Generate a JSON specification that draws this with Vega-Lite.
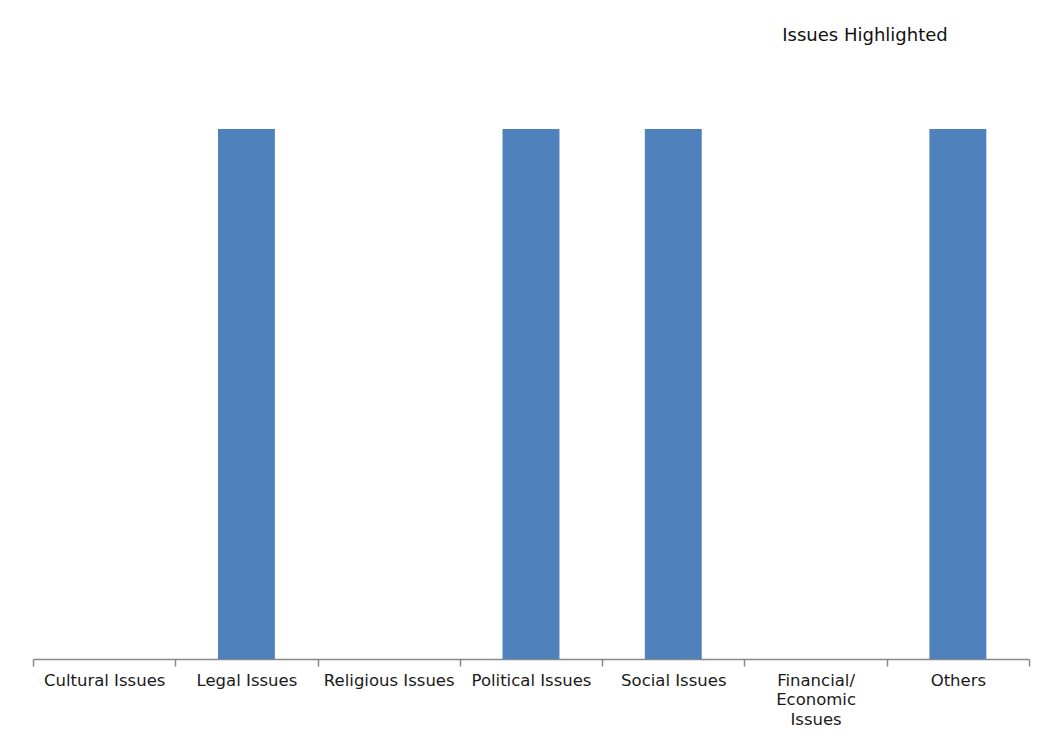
{
  "$schema": "https://vega.github.io/schema/vega-lite/v6.json",
  "autosize": {"type": "none"},
  "width": 996,
  "height": 583,
  "padding": {"left": 33, "top": 76, "right": 17, "bottom": 79},
  "background": "white",
  "title": {
    "text": "Issues Highlighted",
    "anchor": "middle",
    "frame": "group",
    "dx": 334,
    "offset": 17,
    "baseline": "alphabetic",
    "font": "DejaVu Sans",
    "fontSize": 18,
    "fontWeight": "normal",
    "color": "#111111"
  },
  "data": {
    "values": [
      {"issue": "Cultural Issues", "value": 0},
      {"issue": "Legal Issues", "value": 1},
      {"issue": "Religious Issues", "value": 0},
      {"issue": "Political Issues", "value": 1},
      {"issue": "Social Issues", "value": 1},
      {"issue": "Financial/Economic Issues", "value": 0},
      {"issue": "Others", "value": 1}
    ]
  },
  "mark": {"type": "bar", "color": "#4F81BD", "width": {"band": 0.4}},
  "encoding": {
    "x": {
      "field": "issue",
      "type": "nominal",
      "sort": null,
      "scale": {"paddingInner": 0, "paddingOuter": 0},
      "axis": {
        "title": null,
        "labelAngle": 0,
        "labelLimit": 0,
        "labelFont": "DejaVu Sans",
        "labelFontSize": 16.5,
        "labelColor": "#1a1a1a",
        "labelPadding": 6,
        "labelBaseline": "top",
        "labelLineHeight": 19.5,
        "labelExpr": "datum.label == 'Financial/Economic Issues' ? ['Financial/', 'Economic', 'Issues'] : datum.label",
        "tickBand": "extent",
        "tickSize": 7,
        "tickColor": "#888888",
        "domainColor": "#888888",
        "domainWidth": 1.5,
        "tickWidth": 1.5
      }
    },
    "y": {
      "field": "value",
      "type": "quantitative",
      "scale": {"domain": [0, 1.1]},
      "axis": null
    }
  },
  "config": {"view": {"stroke": null}}
}
